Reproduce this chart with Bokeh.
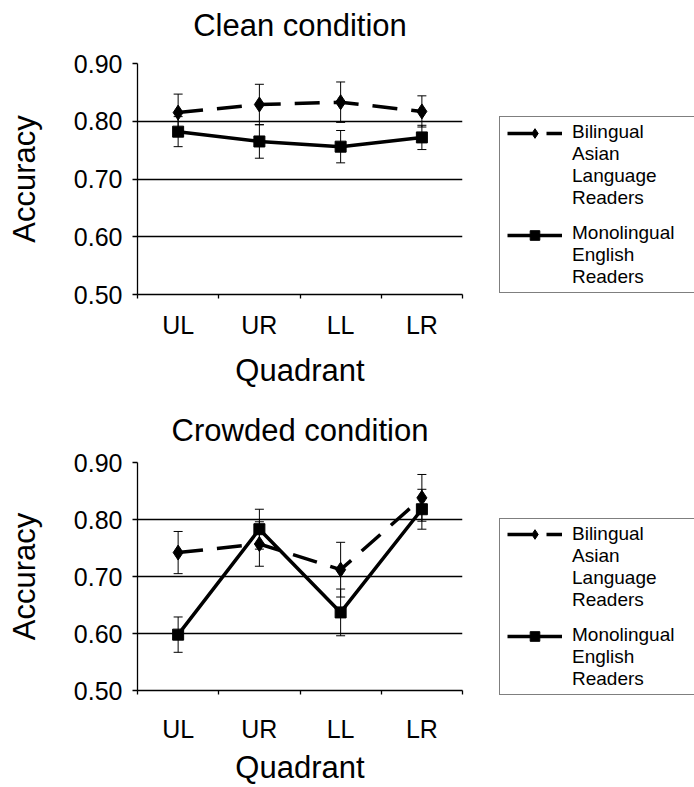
from bokeh.plotting import figure
from bokeh.models import (ColumnDataSource, Range1d, FixedTicker, Whisker, TeeHead,
                          Legend, LegendItem, Title, NumeralTickFormatter)
from bokeh.layouts import column, row
from bokeh.embed import file_html
from bokeh.resources import INLINE

# ---------------- data ----------------
quadrants = ["UL", "UR", "LL", "LR"]
bilingual_label = ["Bilingual", "Asian", "Language", "Readers"]
monolingual_label = ["Monolingual", "English", "Readers"]

clean_bilingual = [0.815, 0.829, 0.833, 0.817]
clean_bilingual_err = [0.032, 0.035, 0.035, 0.027]
clean_monolingual = [0.782, 0.765, 0.756, 0.772]
clean_monolingual_err = [0.026, 0.029, 0.028, 0.021]

crowded_bilingual = [0.742, 0.757, 0.712, 0.838]
crowded_bilingual_err = [0.037, 0.039, 0.048, 0.041]
crowded_monolingual = [0.598, 0.783, 0.637, 0.818]
crowded_monolingual_err = [0.031, 0.035, 0.041, 0.035]

y_ticks = [0.5, 0.6, 0.7, 0.8, 0.9]

FONT = "Liberation Sans"
BI_STYLE = dict(line_color="black", line_width=3.5, line_dash="25 14")
MONO_STYLE = dict(line_color="black", line_width=3.5)
BI_MARK = dict(marker="diamond", size=15, fill_color="black", line_color="black")
MONO_MARK = dict(marker="square", size=11, fill_color="black", line_color="black")


def make_panel(title, bi, bi_err, mono, mono_err, grid_ticks, height, top, bottom,
               title_pad, lab_standoff, axlab_standoff):
    xs = [i + 0.5 for i in range(len(quadrants))]
    p = figure(width=470, height=height, output_backend="svg", toolbar_location=None,
               x_range=Range1d(0, len(quadrants)), y_range=Range1d(y_ticks[0], y_ticks[-1]),
               min_border_left=137, min_border_right=8, min_border_top=top,
               min_border_bottom=bottom, outline_line_color=None)
    p.background_fill_color = "white"
    p.border_fill_color = "white"

    t = Title(text=title, align="center", text_font=FONT, text_font_size="31px",
              text_font_style="normal", text_color="black", standoff=0,
              padding=dict(top=0, right=0, bottom=title_pad, left=0))
    p.add_layout(t, "above")

    p.xgrid.visible = False
    p.ygrid.ticker = FixedTicker(ticks=grid_ticks)
    p.ygrid.grid_line_color = "black"
    p.ygrid.grid_line_width = 1.5

    p.yaxis.ticker = FixedTicker(ticks=y_ticks)
    p.yaxis.formatter = NumeralTickFormatter(format="0.00")
    p.yaxis.axis_label = "Accuracy"
    p.xaxis.axis_label = "Quadrant"
    for ax in (p.xaxis[0], p.yaxis[0]):
        ax.axis_line_color = "black"
        ax.axis_line_width = 1.3
        ax.major_label_text_font = FONT
        ax.major_label_text_font_size = "25px"
        ax.major_label_text_color = "black"
        ax.axis_label_text_font = FONT
        ax.axis_label_text_font_size = "31px"
        ax.axis_label_text_font_style = "normal"
        ax.axis_label_text_color = "black"
        ax.major_tick_line_color = "black"
        ax.minor_tick_line_color = "black"
        ax.major_tick_line_width = 1.3
        ax.minor_tick_line_width = 1.3
    p.yaxis.major_tick_in = 0
    p.yaxis.major_tick_out = 5
    p.yaxis.minor_tick_line_color = None
    p.yaxis.major_label_standoff = 10
    p.yaxis.axis_label_standoff = 29

    p.xaxis.ticker = FixedTicker(ticks=xs, minor_ticks=list(range(len(quadrants) + 1)))
    p.xaxis.major_label_overrides = {x: q for x, q in zip(xs, quadrants)}
    p.xaxis.major_tick_line_color = None
    p.xaxis.major_tick_in = 0
    p.xaxis.major_tick_out = 0
    p.xaxis.minor_tick_in = 0
    p.xaxis.minor_tick_out = 4
    p.xaxis.major_label_standoff = lab_standoff
    p.xaxis.axis_label_standoff = axlab_standoff

    src = ColumnDataSource(dict(
        x=xs, bi=bi, mono=mono,
        bi_lo=[v - e for v, e in zip(bi, bi_err)], bi_hi=[v + e for v, e in zip(bi, bi_err)],
        mono_lo=[v - e for v, e in zip(mono, mono_err)], mono_hi=[v + e for v, e in zip(mono, mono_err)],
    ))

    for lo, hi in (("bi_lo", "bi_hi"), ("mono_lo", "mono_hi")):
        w = Whisker(source=src, base="x", lower=lo, upper=hi, line_color="black", line_width=1,
                    upper_head=TeeHead(size=9, line_color="black", line_width=1),
                    lower_head=TeeHead(size=9, line_color="black", line_width=1))
        p.add_layout(w)

    p.line("x", "bi", source=src, **BI_STYLE)
    p.scatter("x", "bi", source=src, **BI_MARK)
    p.line("x", "mono", source=src, **MONO_STYLE)
    p.scatter("x", "mono", source=src, **MONO_MARK)
    return p


def make_legend(height, box_y, glyph_y):
    lf = figure(width=224, height=height, output_backend="svg", toolbar_location=None,
                x_range=Range1d(0, 1), y_range=Range1d(0, 1), x_axis_type=None, y_axis_type=None,
                min_border=0, outline_line_color=None, frame_align=False)
    lf.grid.visible = False
    lf.border_fill_color = "white"
    # legend-only renderers: one undefined (NaN) row, so nothing is drawn in the frame
    empty = ColumnDataSource(dict(x=[float("nan")], y=[float("nan")]))
    bl = lf.line("x", "y", source=empty, **BI_STYLE)
    bm = lf.scatter("x", "y", source=empty, **BI_MARK)
    ml = lf.line("x", "y", source=empty, **MONO_STYLE)
    mm = lf.scatter("x", "y", source=empty, **MONO_MARK)
    blank = lf.line("x", "y", source=empty, line_alpha=0)

    # box with the (multi-line) texts
    text_legend = Legend(items=[LegendItem(label="\n".join(bilingual_label), renderers=[blank]),
                                LegendItem(label="\n".join(monolingual_label), renderers=[blank])],
                         location=(29, box_y))
    text_legend.label_text_font = FONT
    text_legend.label_text_font_size = "19px"
    text_legend.label_text_color = "black"
    text_legend.label_text_line_height = 0.9
    text_legend.glyph_width = 58
    text_legend.glyph_height = 20
    text_legend.label_height = 20
    text_legend.label_width = 140
    text_legend.label_standoff = 10
    text_legend.spacing = 13
    text_legend.padding = 4
    text_legend.margin = 0
    text_legend.border_line_color = "black"
    text_legend.border_line_width = 1.5
    text_legend.background_fill_color = "white"
    text_legend.background_fill_alpha = 1.0
    lf.add_layout(text_legend)

    # glyph samples aligned with the first line of each entry
    glyph_legend = Legend(items=[LegendItem(label=" ", renderers=[bl, bm]),
                                 LegendItem(label=" ", renderers=[ml, mm])],
                          location=(37, glyph_y))
    glyph_legend.glyph_width = 55
    glyph_legend.glyph_height = 24
    glyph_legend.label_height = 24
    glyph_legend.label_text_font_size = "10px"
    glyph_legend.label_standoff = 10
    glyph_legend.spacing = 78
    glyph_legend.padding = 4
    glyph_legend.margin = 0
    glyph_legend.border_line_color = None
    glyph_legend.background_fill_alpha = 0
    lf.add_layout(glyph_legend)
    return lf


p1 = make_panel("Clean condition", clean_bilingual, clean_bilingual_err,
                clean_monolingual, clean_monolingual_err, [0.6, 0.7, 0.8, 0.9],
                400, 63, 106, 21, 12, 11)
p2 = make_panel("Crowded condition", crowded_bilingual, crowded_bilingual_err,
                crowded_monolingual, crowded_monolingual_err, [0.6, 0.7, 0.8],
                387, 62, 97, 15, 20, 4)
l1 = make_legend(400, 107, 153)
l2 = make_legend(387, 92, 139)

layout = column(row(p1, l1, spacing=0), row(p2, l2, spacing=0), spacing=0)
open("out.html", "w").write(file_html(layout, INLINE))
